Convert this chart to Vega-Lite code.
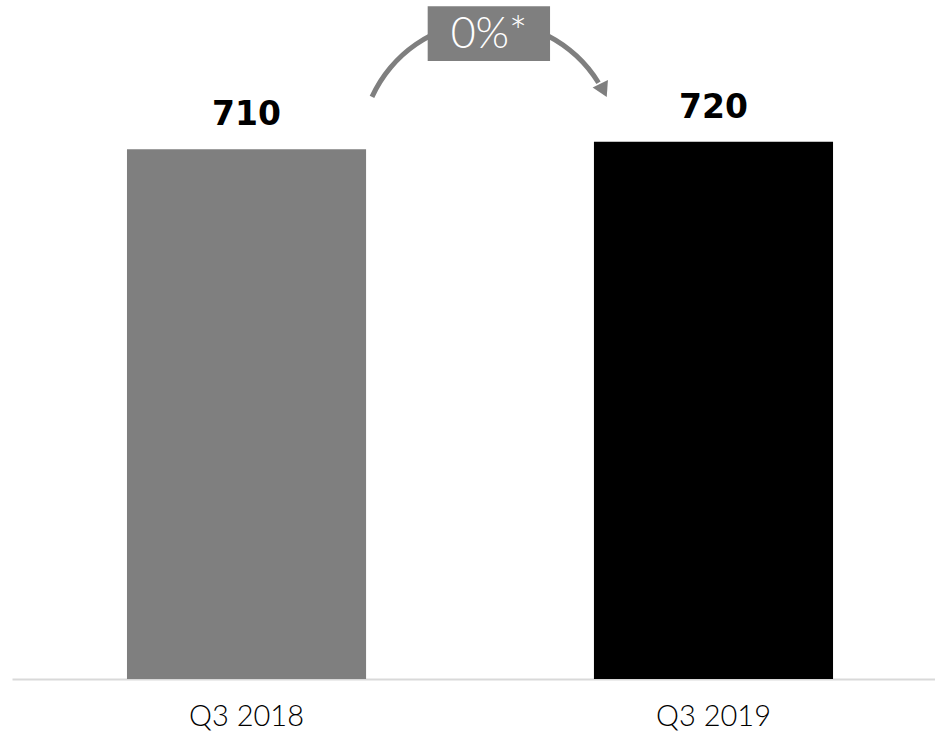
{
  "$schema": "https://vega.github.io/schema/vega-lite/v6.json",
  "width": 923,
  "height": 679,
  "autosize": "none",
  "padding": {"left": 12, "top": 0, "right": 0, "bottom": 59},
  "background": "white",
  "config": {"view": {"stroke": null}},
  "resolve": {"scale": {"x": "independent"}},
  "layer": [
    {
      "data": {"values": [{"period": "Q3 2018", "value": 710}, {"period": "Q3 2019", "value": 720}]},
      "layer": [
        {
          "mark": {"type": "bar"},
          "encoding": {
            "x": {"field": "period", "type": "nominal", "sort": null,
              "scale": {"paddingInner": 0.488, "paddingOuter": 0.2323, "align": 0.53},
              "axis": {"title": null, "ticks": false, "labelAngle": 0, "domainColor": "#d9d9d9", "domainWidth": 2, "labelFont": "Lato", "labelFontSize": 29, "labelFontWeight": 300, "labelColor": "#000000", "labelPadding": 23, "grid": false}},
            "y": {"field": "value", "type": "quantitative", "scale": {"domain": [0, 910], "nice": false, "zero": true}, "axis": null},
            "color": {"field": "period", "type": "nominal", "scale": {"domain": ["Q3 2018", "Q3 2019"], "range": ["#7f7f7f", "#000000"]}, "legend": null}
          }
        },
        {
          "mark": {"type": "text", "baseline": "alphabetic", "align": "center", "dy": -24, "font": "DejaVu Sans", "fontWeight": "bold", "fontSize": 33, "color": "#000000"},
          "encoding": {
            "x": {"field": "period", "type": "nominal", "sort": null},
            "y": {"field": "value", "type": "quantitative"},
            "text": {"field": "value", "type": "quantitative"}
          }
        }
      ]
    },
    {
      "data": {"values": [{"change": "0%*"}]},
      "layer": [
        {
          "mark": {"type": "arc", "theta": -1.145, "theta2": 1.02, "radius": 131, "radius2": 126, "color": "#7f7f7f"},
          "encoding": {
            "x": {"datum": 1.5193, "type": "quantitative", "scale": {"domain": [0.4979, 2.4743], "nice": false, "zero": false}, "axis": null},
            "y": {"datum": 709, "type": "quantitative"}
          }
        },
        {
          "mark": {"type": "point", "shape": "triangle-up", "filled": true, "size": 289, "angle": 154, "color": "#7f7f7f", "opacity": 1},
          "encoding": {
            "x": {"datum": 1.7645, "type": "quantitative"},
            "y": {"datum": 788.8, "type": "quantitative"}
          }
        },
        {
          "mark": {"type": "rect", "color": "#7f7f7f"},
          "encoding": {
            "x": {"datum": 1.388, "type": "quantitative"},
            "x2": {"datum": 1.650},
            "y": {"datum": 901.5, "type": "quantitative"},
            "y2": {"datum": 828.3}
          }
        },
        {
          "mark": {"type": "text", "align": "center", "baseline": "alphabetic", "font": "Lato", "fontWeight": 300, "fontSize": 43, "color": "#ffffff"},
          "encoding": {
            "x": {"datum": 1.5193, "type": "quantitative"},
            "y": {"datum": 846, "type": "quantitative"},
            "text": {"field": "change", "type": "nominal"}
          }
        }
      ]
    }
  ]
}
